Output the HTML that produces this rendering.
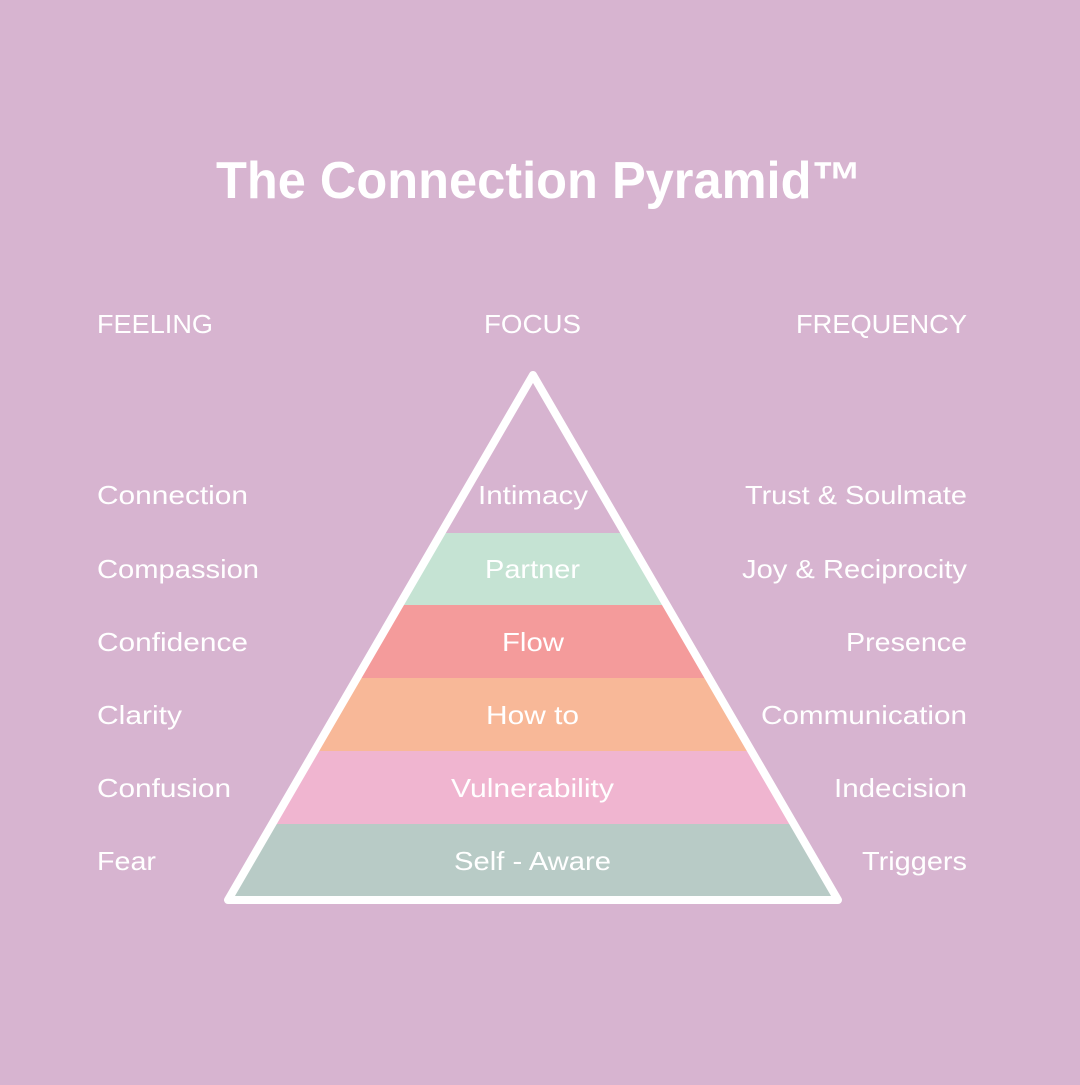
<!DOCTYPE html>
<html><head><style>
body{margin:0;width:1080px;height:1080px;background:#D7B4D0;overflow:hidden;font-family:"Liberation Sans",sans-serif;}
</style></head><body>
<svg width="1080" height="1080" xmlns="http://www.w3.org/2000/svg">
<rect width="1080" height="1080" fill="#D7B4D0"/>
<text x="216" y="198" textLength="646" lengthAdjust="spacingAndGlyphs" fill="#fff" font-family="Liberation Sans" font-weight="bold" font-size="52">The Connection Pyramid™</text>
<g fill="#fff" font-family="Liberation Sans" font-size="26">
<text x="97" y="333" textLength="116" lengthAdjust="spacingAndGlyphs">FEELING</text>
<text x="484" y="333" textLength="97" lengthAdjust="spacingAndGlyphs">FOCUS</text>
<text x="796" y="333" textLength="171" lengthAdjust="spacingAndGlyphs">FREQUENCY</text>
</g>
<defs><clipPath id="tri"><polygon points="533,375 228,900 838,900"/></clipPath></defs>
<g clip-path="url(#tri)">
<rect x="200" y="533" width="700" height="72" fill="#C5E3D3"/>
<rect x="200" y="605" width="700" height="73" fill="#F49B9B"/>
<rect x="200" y="678" width="700" height="73" fill="#F8B898"/>
<rect x="200" y="751" width="700" height="73" fill="#F0B5D0"/>
<rect x="200" y="824" width="700" height="80" fill="#B8CBC6"/>
</g>
<polygon points="533,375 228,900 838,900" fill="none" stroke="#fff" stroke-width="8" stroke-linejoin="round"/>
<g fill="#fff" font-family="Liberation Sans" font-size="26">
<text x="478" y="504" textLength="110" lengthAdjust="spacingAndGlyphs">Intimacy</text>
<text x="485" y="578" textLength="95" lengthAdjust="spacingAndGlyphs">Partner</text>
<text x="502" y="651" textLength="62" lengthAdjust="spacingAndGlyphs">Flow</text>
<text x="486" y="724" textLength="93" lengthAdjust="spacingAndGlyphs">How to</text>
<text x="451" y="797" textLength="163" lengthAdjust="spacingAndGlyphs">Vulnerability</text>
<text x="454" y="870" textLength="157" lengthAdjust="spacingAndGlyphs">Self - Aware</text>
<text x="97" y="504" textLength="151" lengthAdjust="spacingAndGlyphs">Connection</text>
<text x="97" y="578" textLength="162" lengthAdjust="spacingAndGlyphs">Compassion</text>
<text x="97" y="651" textLength="151" lengthAdjust="spacingAndGlyphs">Confidence</text>
<text x="97" y="724" textLength="85" lengthAdjust="spacingAndGlyphs">Clarity</text>
<text x="97" y="797" textLength="134" lengthAdjust="spacingAndGlyphs">Confusion</text>
<text x="97" y="870" textLength="59" lengthAdjust="spacingAndGlyphs">Fear</text>
<text x="745" y="504" textLength="222" lengthAdjust="spacingAndGlyphs">Trust &amp; Soulmate</text>
<text x="742" y="578" textLength="225" lengthAdjust="spacingAndGlyphs">Joy &amp; Reciprocity</text>
<text x="846" y="651" textLength="121" lengthAdjust="spacingAndGlyphs">Presence</text>
<text x="761" y="724" textLength="206" lengthAdjust="spacingAndGlyphs">Communication</text>
<text x="834" y="797" textLength="133" lengthAdjust="spacingAndGlyphs">Indecision</text>
<text x="862" y="870" textLength="105" lengthAdjust="spacingAndGlyphs">Triggers</text>
</g>
</svg>
</body></html>
